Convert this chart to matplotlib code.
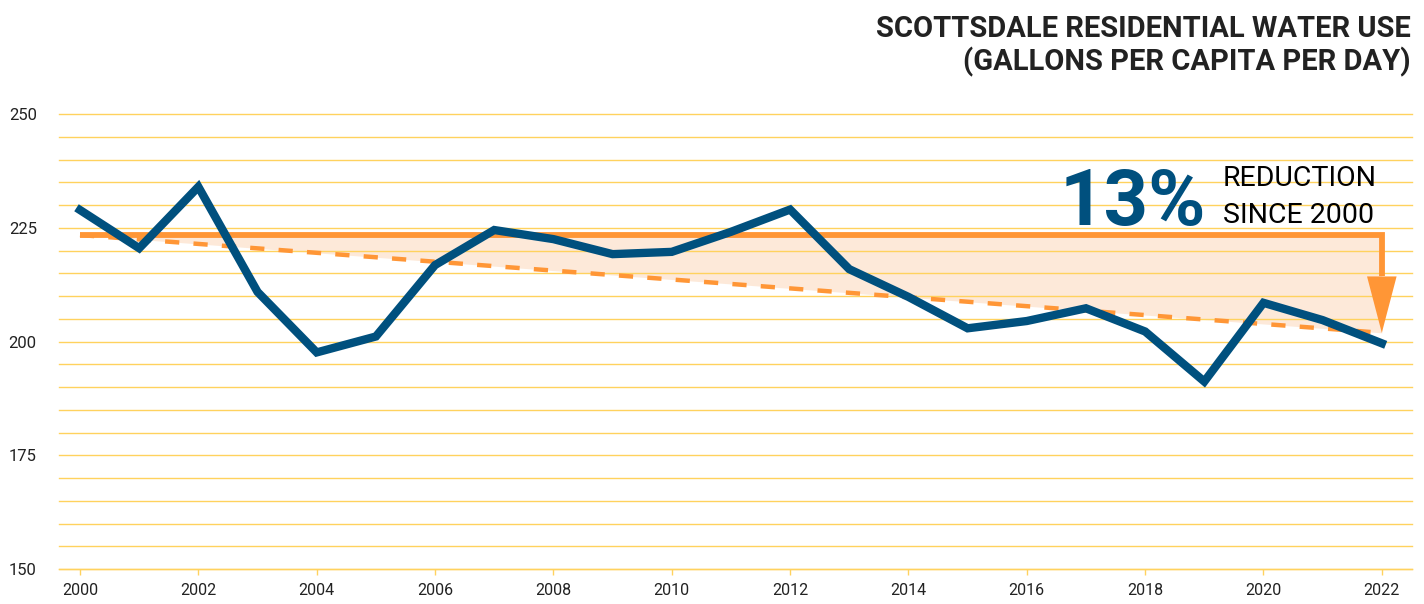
import matplotlib
matplotlib.use("Agg")
import matplotlib.pyplot as plt
from matplotlib.patches import Polygon

plt.rcParams['font.family'] = ['Roboto', 'DejaVu Sans']

# Residential water use, gallons per capita per day
years = list(range(2000, 2023))
gpcd = [228.9, 220.5, 234.0, 210.9, 197.6, 201.1, 216.8, 224.5, 222.5, 219.2,
        219.7, 224.1, 229.0, 215.9, 209.8, 202.9, 204.5, 207.3, 202.2, 191.2,
        208.5, 204.7, 199.6]

# reference level and trend end points
baseline_level = 223.4
trend_years = [2000, 2022]
trend_values = [223.4, 201.9]

y_ticks = [150, 175, 200, 225, 250]
x_ticks = list(range(2000, 2023, 2))

NAVY = "#00507e"
ORANGE = "#ff9636"
FILL = "#fde6d3"
GRID = "#ffd25e"
TEXT = "#222222"

fig = plt.figure(figsize=(14.24, 6.04), dpi=100)
ax = fig.add_axes([59 / 1424, 35 / 604, (1412 - 59) / 1424, (569 - 114) / 604])

ax.set_xlim(1999.645, 2022.51)
ax.set_ylim(150, 250)

# horizontal grid every 5 units
for v in range(150, 251, 5):
    ax.axhline(v, color=GRID, lw=1.0, zorder=1, clip_on=False)

# shaded gap between the 2000 level and the trend
ax.fill_between(trend_years, [baseline_level] * 2, trend_values,
                color=FILL, alpha=0.85, lw=0, zorder=0.5)

# trend (dashed)
ax.plot(trend_years, trend_values, color=ORANGE, lw=3.2,
        dashes=(3.2, 3.2), zorder=2)

# level line turning down into an arrow
head_len = 12.4
head_half_w = 0.25
ax.plot([trend_years[0], trend_years[1], trend_years[1]],
        [baseline_level, baseline_level, trend_values[1] + head_len],
        color=ORANGE, lw=4.2, solid_joinstyle='miter', solid_capstyle='butt',
        zorder=2)
ax.add_patch(Polygon([(trend_years[1] - head_half_w, trend_values[1] + head_len),
                      (trend_years[1] + head_half_w, trend_values[1] + head_len),
                      (trend_years[1], trend_values[1])],
                     closed=True, color=ORANGE, lw=0, zorder=2))

# main series
ax.plot(years, gpcd, color=NAVY, lw=6.0, solid_joinstyle='miter', zorder=3)

# axes styling
for side in ['top', 'right', 'left']:
    ax.spines[side].set_visible(False)
ax.spines['bottom'].set_color(GRID)
ax.spines['bottom'].set_linewidth(1.0)

ax.set_yticks(y_ticks)
ax.set_xticks(x_ticks)
ax.tick_params(axis='y', length=0, pad=16, labelsize=12, labelcolor=TEXT)
ax.tick_params(axis='x', length=4, width=1, color=GRID, pad=6,
               labelsize=11.5, labelcolor=TEXT)

# reduction callout
pct = (1 - gpcd[-1] / gpcd[0]) * 100
fig.text(1206 / 1424, (604 - 225) / 604, f"{pct:.0f}%", ha='right',
         va='baseline', fontsize=56, fontweight='bold', color=NAVY)
fig.text(1223 / 1424, (604 - 186) / 604, "REDUCTION", ha='left',
         va='baseline', fontsize=20.5, color='black')
fig.text(1223 / 1424, (604 - 223) / 604, "SINCE 2000", ha='left',
         va='baseline', fontsize=20.5, color='black')

# title
fig.text(1411 / 1424, (604 - 37) / 604, "SCOTTSDALE RESIDENTIAL WATER USE",
         ha='right', va='baseline', fontsize=21, fontweight='bold', color=TEXT)
fig.text(1411 / 1424, (604 - 70) / 604, "(GALLONS PER CAPITA PER DAY)",
         ha='right', va='baseline', fontsize=21, fontweight='bold', color=TEXT)

fig.savefig("out.png", dpi=100)
